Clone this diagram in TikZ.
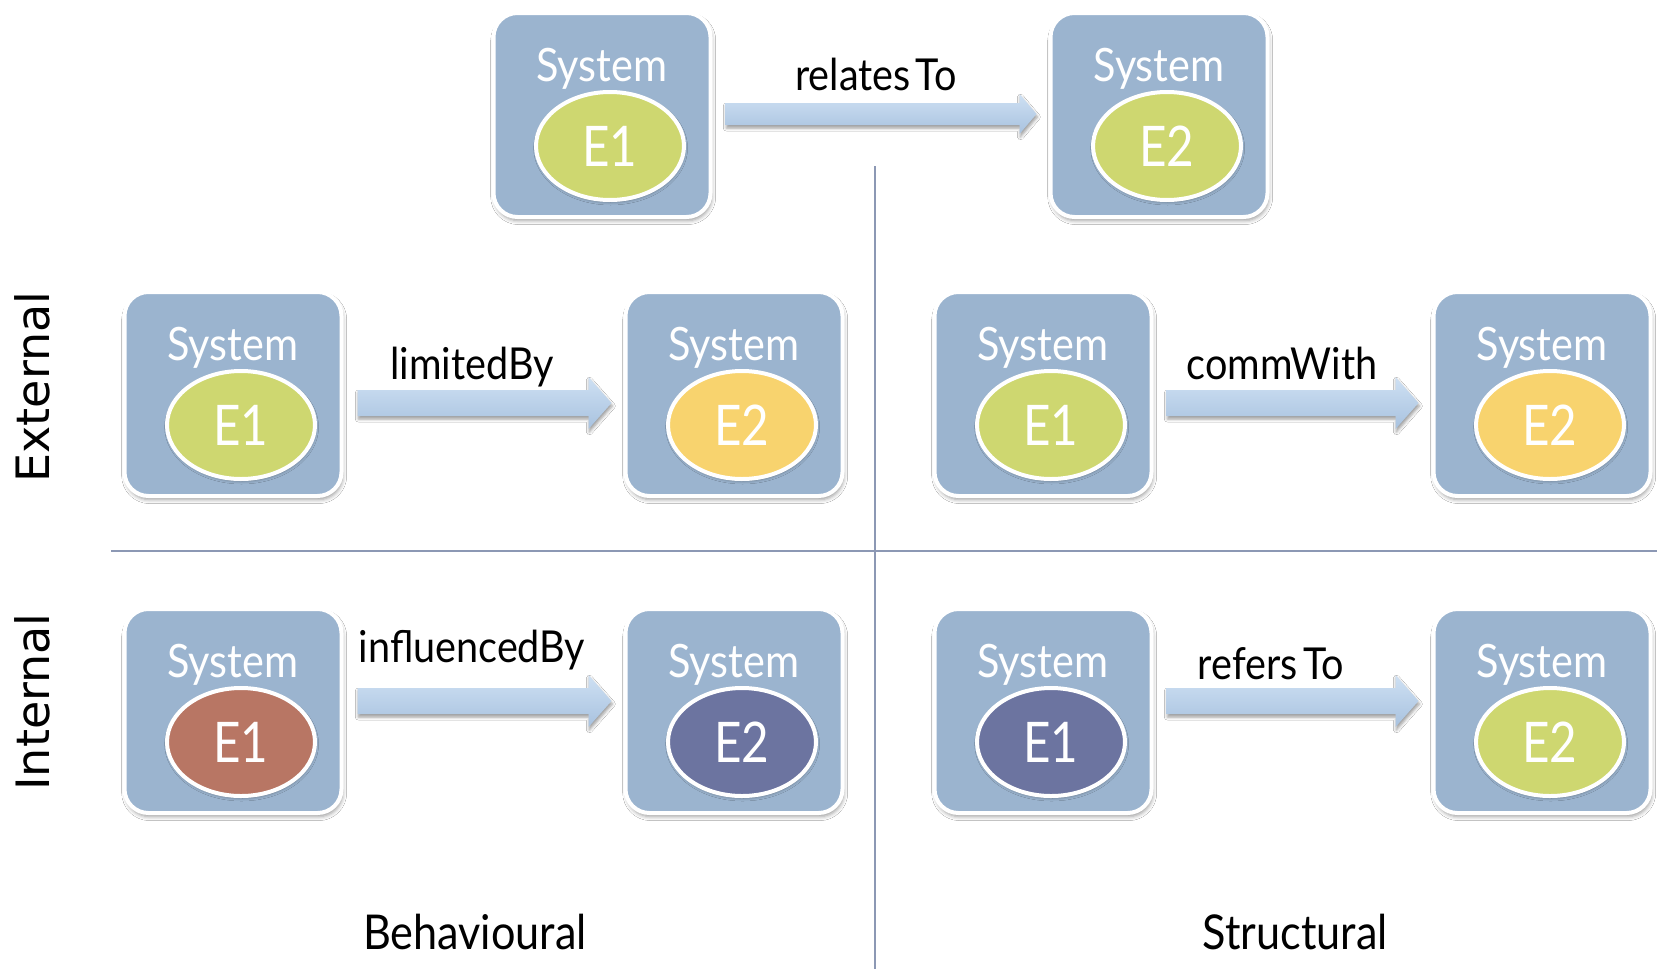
\documentclass[tikz,border=0pt]{standalone}
\usepackage{fontspec}
\setmainfont{Lato}
\newfontfamily\gs[FakeStretch=0.9]{Lato}
\newfontfamily\gsn[FakeStretch=0.85]{Lato}
\newfontfamily\dv{DejaVu Sans}
\usetikzlibrary{calc,shapes.geometric,shadows.blur}

\definecolor{boxblue}{RGB}{155,180,207}
\definecolor{elgreen}{RGB}{206,215,112}
\definecolor{elorange}{RGB}{248,211,110}
\definecolor{elbrown}{RGB}{184,118,100}
\definecolor{elpurple}{RGB}{108,116,160}
\definecolor{arrtop}{RGB}{206,224,243}
\definecolor{arrbot}{RGB}{168,194,223}
\definecolor{axisgrey}{RGB}{140,152,180}

\tikzset{
  sysbox/.style={rectangle, rounded corners=12pt, minimum width=108.5pt,
    minimum height=102pt, fill=boxblue, draw=white, line width=2pt,
    blur shadow={shadow xshift=0.6pt, shadow yshift=-1.8pt,
      shadow blur radius=2pt, shadow opacity=40}},
  ent/.style={ellipse, minimum width=74pt, minimum height=54pt, inner sep=0pt,
    draw=white, line width=2pt, fill=#1, text=white,
    font=\gsn\fontsize{28}{28}\selectfont,
    blur shadow={shadow xshift=0.3pt, shadow yshift=-1pt,
      shadow blur radius=1.5pt, shadow opacity=35}},
  systxt/.style={text=white, font=\gs\fontsize{23}{23}\selectfont,
    inner sep=0pt, anchor=base},
  rellabel/.style={font=\gs\fontsize{22}{22}\selectfont, anchor=base, inner sep=0pt},
  dimlabel/.style={font=\gs\fontsize{24}{24}\selectfont, anchor=base, inner sep=0pt},
  sidelabel/.style={font=\dv\fontsize{23}{23}\selectfont, rotate=90, inner sep=0pt},
  axisline/.style={draw=axisgrey, line width=0.8pt},
  fat/.style={top color=arrtop, bottom color=arrbot,
    blur shadow={shadow xshift=0.4pt, shadow yshift=-1.5pt,
      shadow blur radius=1.5pt, shadow opacity=40}},
}

% system box with its element ellipse: name, centre, element colour, element text
\newcommand\sysunit[4]{%
  \node[sysbox] (#1) at #2 {};
  \node[systxt] (#1s) at ($(#1.center)+(0,-34)$) {System};
  \node[ent=#3] (#1e) at ($(#1.center)+(8,31)$) {#4};
}

% block arrow: start, end, half shaft, half head, head length (all in pt)
\newcommand\fatarrow[5]{%
  \path[fat] let \p1=#1, \p2=#2 in
    (\x1,\y1+#3) -- (\x2-#5,\y1+#3) -- (\x2-#5,\y1+#4) -- (\x2,\y1)
    -- (\x2-#5,\y1-#4) -- (\x2-#5,\y1-#3) -- (\x1,\y1-#3) -- cycle;
}

\begin{document}
\begin{tikzpicture}[x=0.5pt, y=-0.5pt]
  \useasboundingbox (0,0) rectangle (1657,969);
  \fill[white] (0,0) rectangle (1657,969);

  % quadrant axes
  \coordinate (hl) at (111,551);
  \coordinate (hr) at (1657,551);
  \coordinate (vt) at (875,166);
  \coordinate (vb) at (875,969);
  \draw[axisline] (hl) -- (hr);
  \draw[axisline] (vt) -- (vb);

  % top pair
  \sysunit{t1}{(602,115)}{elgreen}{E1}
  \sysunit{t2}{(1159,115)}{elgreen}{E2}

  % external row
  \sysunit{a1}{(233,394)}{elgreen}{E1}
  \sysunit{a2}{(734,394)}{elorange}{E2}
  \sysunit{a3}{(1043,394)}{elgreen}{E1}
  \sysunit{a4}{(1542,394)}{elorange}{E2}

  % internal row
  \sysunit{b1}{(233,711)}{elbrown}{E1}
  \sysunit{b2}{(734,711)}{elpurple}{E2}
  \sysunit{b3}{(1043,711)}{elpurple}{E1}
  \sysunit{b4}{(1542,711)}{elgreen}{E2}

  % relation arrows
  \fatarrow{($(t1.east)+(13,-1)$)}{($(t2.west)+(-12,-1)$)}{5.5pt}{10pt}{8.5pt}
  \fatarrow{($(a1.east)+(14,9)$)}{($(a2.west)+(-12,9)$)}{6.5pt}{13pt}{11.5pt}
  \fatarrow{($(a3.east)+(13,9)$)}{($(a4.west)+(-13,9)$)}{6.5pt}{13pt}{11.5pt}
  \fatarrow{($(b1.east)+(14,-10)$)}{($(b2.west)+(-12,-10)$)}{6.5pt}{13pt}{11.5pt}
  \fatarrow{($(b3.east)+(13,-10)$)}{($(b4.west)+(-13,-10)$)}{6.5pt}{13pt}{11.5pt}

  % relation names
  \node[rellabel] (lrel) at (876,90) {relates\hspace{0.12em}To};
  \node[rellabel] (llim) at (472,379) {limitedBy};
  \node[rellabel] (lcom) at (1282,379) {commWith};
  \node[rellabel] (linf) at (472,662) {influencedBy};
  \node[rellabel] (lref) at (1271,679) {refers\hspace{0.12em}To};

  % quadrant names
  \node[dimlabel] (beh) at (475,949) {Behavioural};
  \node[dimlabel] (str) at (1295,949) {Structural};
  \node[sidelabel] (ext) at (32,387) {External};
  \node[sidelabel] (int) at (32,702) {Internal};
\end{tikzpicture}
\end{document}
